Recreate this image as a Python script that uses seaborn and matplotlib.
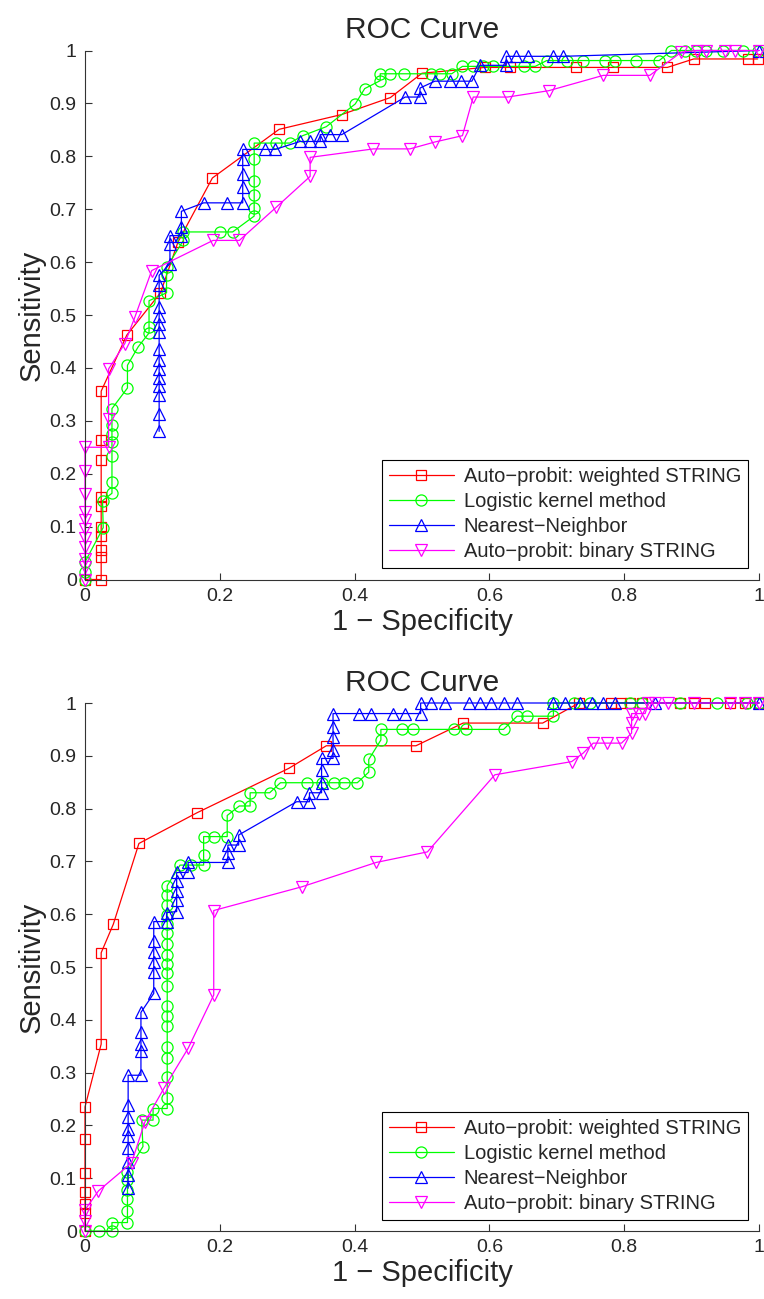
import seaborn as sns
import matplotlib.pyplot as plt

# ---- data (x = 1 - specificity, y = sensitivity) ----
methods = ['Auto\u2212probit: weighted STRING', 'Logistic kernel method',
           'Nearest\u2212Neighbor', 'Auto\u2212probit: binary STRING']

# upper panel
top_weighted_x = [0, 0.024, 0.024, 0.024, 0.024, 0.024, 0.024, 0.024, 0.024, 0.024, 0.024,
                  0.062, 0.112, 0.138, 0.189, 0.288, 0.381, 0.453, 0.500, 0.593, 0.630,
                  0.728, 0.784, 0.864, 0.903, 0.984, 0.998]
top_weighted_y = [0, 0, 0.042, 0.056, 0.083, 0.099, 0.139, 0.156, 0.225, 0.264, 0.356,
                  0.462, 0.542, 0.638, 0.759, 0.851, 0.879, 0.911, 0.957, 0.968, 0.968,
                  0.968, 0.968, 0.968, 0.984, 0.984, 0.984]

top_logistic_x = [0, 0, 0, 0.027, 0.026, 0.040, 0.040, 0.040, 0.040, 0.040, 0.040, 0.040,
                  0.063, 0.063, 0.079, 0.095, 0.095, 0.095, 0.121, 0.121, 0.121, 0.146,
                  0.146, 0.201, 0.219, 0.251, 0.251, 0.251, 0.251, 0.251, 0.251, 0.284,
                  0.304, 0.323, 0.358, 0.401, 0.415, 0.438, 0.438, 0.452, 0.473, 0.513,
                  0.527, 0.544, 0.560, 0.576, 0.591, 0.606, 0.651, 0.668, 0.685, 0.715,
                  0.739, 0.772, 0.786, 0.818, 0.852, 0.870, 0.890, 0.907, 0.922, 0.947,
                  0.977, 0.998]
top_logistic_y = [0, 0.015, 0.033, 0.098, 0.149, 0.163, 0.184, 0.234, 0.260, 0.275, 0.292,
                  0.323, 0.362, 0.405, 0.440, 0.466, 0.478, 0.527, 0.542, 0.575, 0.590,
                  0.641, 0.657, 0.657, 0.657, 0.687, 0.702, 0.726, 0.754, 0.795, 0.825,
                  0.825, 0.825, 0.839, 0.856, 0.899, 0.928, 0.943, 0.956, 0.956, 0.956,
                  0.956, 0.956, 0.956, 0.970, 0.970, 0.970, 0.970, 0.970, 0.970, 0.981,
                  0.981, 0.981, 0.981, 0.981, 0.981, 0.981, 1, 1, 1, 1, 1, 1, 1]

top_neighbor_x = [0.110, 0.110, 0.110, 0.110, 0.110, 0.110, 0.110, 0.110, 0.110, 0.110,
                  0.110, 0.110, 0.110, 0.110, 0.126, 0.126, 0.126, 0.143, 0.143, 0.143,
                  0.176, 0.210, 0.234, 0.234, 0.234, 0.234, 0.234, 0.267, 0.282, 0.319,
                  0.334, 0.349, 0.349, 0.364, 0.381, 0.475, 0.497, 0.497, 0.519, 0.541,
                  0.558, 0.574, 0.586, 0.625, 0.625, 0.640, 0.657, 0.694, 0.709, 1.0]
top_neighbor_y = [0.280, 0.313, 0.348, 0.365, 0.381, 0.397, 0.414, 0.436, 0.467, 0.483,
                  0.499, 0.515, 0.556, 0.575, 0.597, 0.635, 0.650, 0.650, 0.666, 0.696,
                  0.712, 0.712, 0.712, 0.742, 0.767, 0.794, 0.813, 0.813, 0.813, 0.828,
                  0.828, 0.828, 0.841, 0.841, 0.841, 0.912, 0.912, 0.929, 0.942, 0.942,
                  0.942, 0.942, 0.972, 0.972, 0.989, 0.989, 0.989, 0.989, 0.989, 1.0]

top_binary_x = [0, 0, 0, 0, 0, 0, 0, 0, 0, 0, 0, 0.035, 0.035, 0.035, 0.059, 0.074,
                0.099, 0.190, 0.229, 0.284, 0.334, 0.334, 0.428, 0.482, 0.519, 0.560,
                0.576, 0.627, 0.688, 0.769, 0.838, 0.885, 0.908, 0.922, 0.950, 0.964, 1.0]
top_binary_y = [0, 0.023, 0.039, 0.061, 0.079, 0.096, 0.112, 0.127, 0.162, 0.206, 0.250,
                0.250, 0.304, 0.398, 0.446, 0.496, 0.584, 0.641, 0.641, 0.704, 0.762,
                0.798, 0.814, 0.814, 0.827, 0.839, 0.912, 0.912, 0.924, 0.953, 0.953,
                0.997, 1, 1, 1, 1, 1]

# lower panel
bot_weighted_x = [0, 0, 0, 0, 0, 0, 0, 0.024, 0.024, 0.042, 0.080, 0.166, 0.302, 0.358,
                  0.491, 0.561, 0.679, 0.733, 0.780, 0.795, 0.809, 0.826, 0.883, 0.903,
                  0.920, 0.957, 0.979, 1.0]
bot_weighted_y = [0, 0.034, 0.051, 0.074, 0.109, 0.174, 0.235, 0.354, 0.527, 0.581, 0.734,
                  0.792, 0.876, 0.919, 0.919, 0.962, 0.962, 1, 1, 1, 1, 1, 1, 1, 1, 1, 1, 1]

bot_logistic_x = [0, 0.021, 0.040, 0.040, 0.063, 0.063, 0.063, 0.063, 0.063, 0.063, 0.086,
                  0.084, 0.101, 0.101, 0.122, 0.122, 0.122, 0.122, 0.122, 0.122, 0.122,
                  0.122, 0.122, 0.122, 0.122, 0.122, 0.122, 0.122, 0.122, 0.122, 0.122,
                  0.122, 0.122, 0.141, 0.158, 0.176, 0.176, 0.176, 0.191, 0.211, 0.211,
                  0.229, 0.245, 0.245, 0.274, 0.290, 0.329, 0.351, 0.370, 0.384, 0.404,
                  0.421, 0.421, 0.439, 0.439, 0.471, 0.486, 0.547, 0.565, 0.621, 0.641,
                  0.656, 0.695, 0.695, 0.725, 0.749, 0.809, 0.826, 0.883, 0.937, 0.982, 1.0]
bot_logistic_y = [0, 0, 0, 0.016, 0.016, 0.037, 0.060, 0.078, 0.097, 0.112, 0.160, 0.210,
                  0.210, 0.232, 0.232, 0.251, 0.292, 0.327, 0.348, 0.389, 0.407, 0.426,
                  0.464, 0.488, 0.505, 0.523, 0.544, 0.564, 0.581, 0.598, 0.617, 0.636,
                  0.654, 0.693, 0.693, 0.693, 0.712, 0.747, 0.747, 0.747, 0.787, 0.805,
                  0.805, 0.830, 0.830, 0.849, 0.849, 0.849, 0.849, 0.849, 0.849, 0.869,
                  0.893, 0.930, 0.950, 0.950, 0.950, 0.950, 0.950, 0.950, 0.975, 0.975,
                  0.975, 1, 1, 1, 1, 1, 1, 1, 1, 1]

bot_neighbor_x = [0.064, 0.064, 0.064, 0.064, 0.064, 0.064, 0.064, 0.064, 0.064, 0.083,
                  0.083, 0.083, 0.083, 0.083, 0.102, 0.102, 0.102, 0.102, 0.102, 0.102,
                  0.121, 0.121, 0.136, 0.136, 0.136, 0.136, 0.136, 0.153, 0.153, 0.212,
                  0.212, 0.212, 0.228, 0.228, 0.314, 0.333, 0.333, 0.351, 0.351, 0.351,
                  0.351, 0.368, 0.368, 0.368, 0.368, 0.368, 0.406, 0.425, 0.457, 0.475,
                  0.498, 0.498, 0.514, 0.534, 0.569, 0.586, 0.603, 0.621, 0.641, 0.695,
                  0.712, 0.734, 0.752, 0.769, 0.786, 0.846, 1.0]
bot_neighbor_y = [0.081, 0.106, 0.131, 0.157, 0.179, 0.194, 0.215, 0.239, 0.295, 0.295,
                  0.340, 0.355, 0.376, 0.414, 0.450, 0.490, 0.510, 0.529, 0.550, 0.586,
                  0.586, 0.603, 0.605, 0.626, 0.644, 0.662, 0.679, 0.679, 0.698, 0.698,
                  0.715, 0.731, 0.731, 0.750, 0.813, 0.813, 0.830, 0.830, 0.849, 0.874,
                  0.895, 0.895, 0.911, 0.936, 0.955, 0.980, 0.980, 0.980, 0.980, 0.980,
                  0.980, 1, 1, 1, 1, 1, 1, 1, 1, 1, 1, 1, 1, 1, 1, 1, 1]

bot_binary_x = [0, 0, 0, 0.020, 0.069, 0.089, 0.117, 0.153, 0.191, 0.191, 0.322, 0.432,
                0.508, 0.608, 0.722, 0.739, 0.754, 0.774, 0.796, 0.811, 0.811, 0.811,
                0.822, 0.831, 0.836, 0.846, 0.865, 0.903, 0.957, 0.979, 1.0]
bot_binary_y = [0, 0.018, 0.040, 0.076, 0.129, 0.207, 0.270, 0.346, 0.447, 0.607, 0.652,
                0.698, 0.718, 0.864, 0.889, 0.905, 0.924, 0.924, 0.924, 0.943, 0.962,
                0.980, 0.980, 0.980, 1, 1, 1, 1, 1, 1, 1]

panels = [
    [(top_weighted_x, top_weighted_y), (top_logistic_x, top_logistic_y),
     (top_neighbor_x, top_neighbor_y), (top_binary_x, top_binary_y)],
    [(bot_weighted_x, bot_weighted_y), (bot_logistic_x, bot_logistic_y),
     (bot_neighbor_x, bot_neighbor_y), (bot_binary_x, bot_binary_y)],
]

colors = ['#ff0000', '#00ff00', '#0000ff', '#ff00ff']
markers = ['s', 'o', '^', 'v']
msizes = [6.5, 8, 8, 8]

sns.set_style('white')
plt.rcParams['font.family'] = ['Liberation Sans', 'DejaVu Sans']
plt.rcParams['axes.unicode_minus'] = True

fig = plt.figure(figsize=(7.64, 12.99), dpi=100)
ax_top = fig.add_axes([85 / 764, 1 - 579.5 / 1299, 674 / 764, 529 / 1299])
ax_bot = fig.add_axes([85 / 764, 1 - 1231 / 1299, 674 / 764, 528 / 1299])

for ax, series in zip([ax_top, ax_bot], panels):
    for (xs, ys), name, c, m, ms in zip(series, methods, colors, markers, msizes):
        sns.lineplot(x=xs, y=ys, ax=ax, sort=False, estimator=None, label=name,
                     color=c, linewidth=0.9, marker=m, markersize=ms,
                     markerfacecolor='none', markeredgecolor=c, markeredgewidth=0.9,
                     clip_on=False)

    ax.set_xlim(0, 1)
    ax.set_ylim(0, 1)
    ax.set_xticks([0, 0.2, 0.4, 0.6, 0.8, 1])
    ax.set_xticklabels(['0', '0.2', '0.4', '0.6', '0.8', '1'])
    ax.set_yticks([i / 10 for i in range(11)])
    ax.set_yticklabels(['0'] + ['0.%d' % i for i in range(1, 10)] + ['1'])
    ax.tick_params(direction='in', length=5, width=0.8, color='#333333',
                   labelsize=14, pad=6)
    ax.tick_params(axis='x', top=False, bottom=True)
    ax.tick_params(axis='y', right=False, left=True)
    for side in ['top', 'right']:
        ax.spines[side].set_visible(False)
    for side in ['left', 'bottom']:
        ax.spines[side].set_color('#333333')
        ax.spines[side].set_linewidth(0.8)

    ax.set_title('ROC Curve', fontsize=21.5, pad=9)
    ax.set_xlabel('1 \u2212 Specificity', fontsize=21, labelpad=2)
    ax.set_ylabel('Sensitivity', fontsize=21, labelpad=3)

    handles, labels = ax.get_legend_handles_labels()
    leg = ax.legend(handles, labels, loc='lower right',
                    bbox_to_anchor=((748 - 85) / 674, 11.2 / 529),
                    borderaxespad=0, fontsize=14.5, handlelength=3.2,
                    handletextpad=0.5, labelspacing=0.3, borderpad=0.35,
                    fancybox=False, framealpha=1, edgecolor='black')
    leg.get_frame().set_linewidth(0.8)

plt.savefig('out.png', dpi=100)
